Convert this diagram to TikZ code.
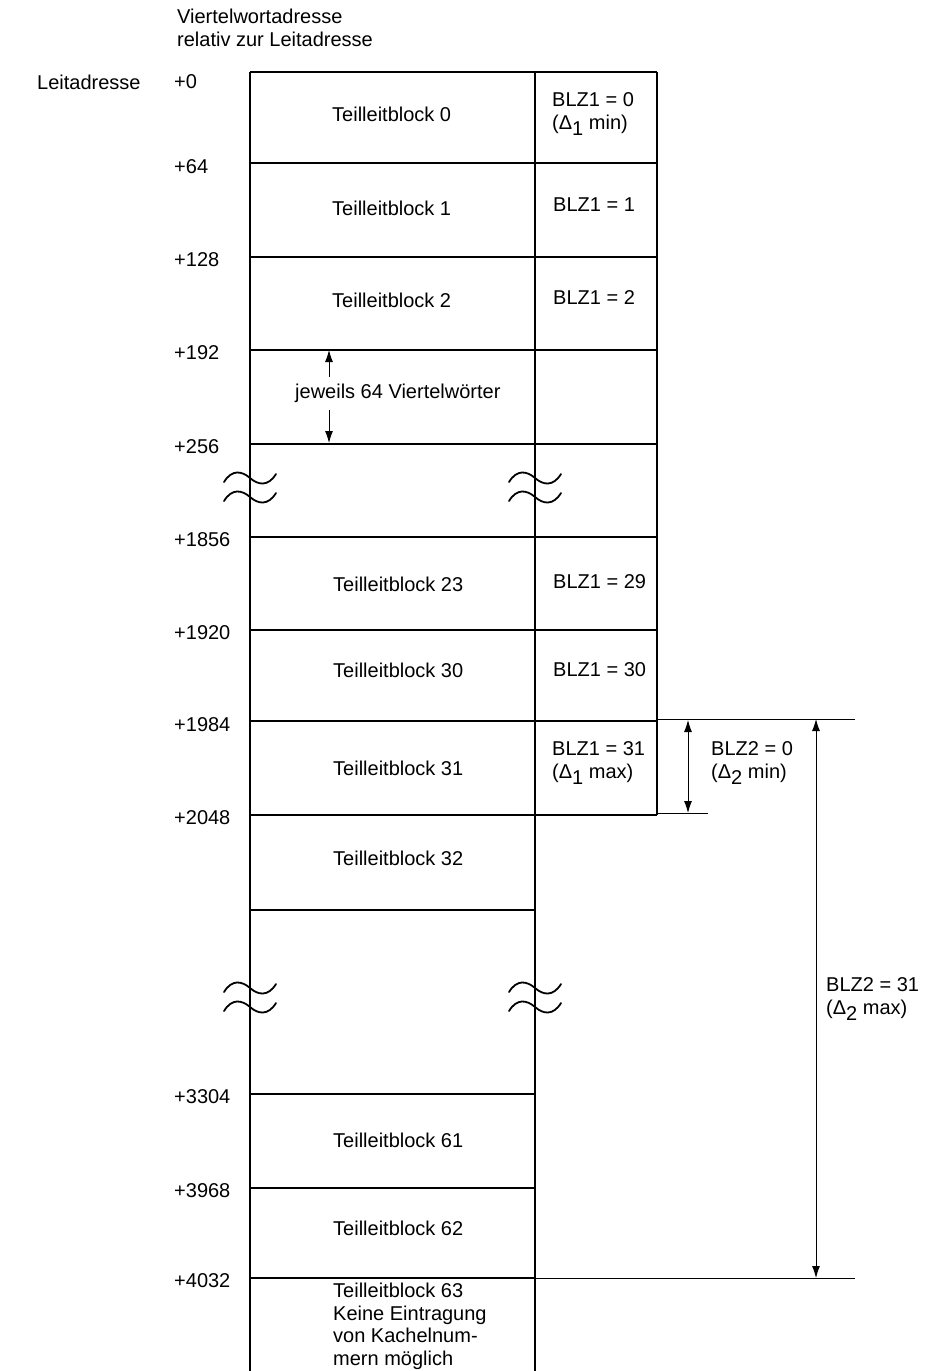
\documentclass[tikz,border=0pt]{standalone}
\usepackage{fontspec}
\setmainfont{Liberation Sans}
\usetikzlibrary{arrows.meta}
\newcommand{\sub}[1]{\raisebox{-0.3em}{#1}}
\newcommand{\breakmark}[2]{%
  \foreach \dy in {0,19}
    \draw[wavy] ({#1-26},{#2+\dy+4}) .. controls ({#1-18},{#2+\dy-9}) and ({#1-8},{#2+\dy-7}) .. ({#1},{#2+\dy})
      .. controls ({#1+8},{#2+\dy+7}) and ({#1+18},{#2+\dy+9}) .. ({#1+26},{#2+\dy-4});
}
\tikzset{
  grid/.style={line width=1.8pt},
  fine/.style={line width=0.9pt},
  wavy/.style={line width=1.8pt, line cap=round},
  dim/.style={line width=0.9pt,-{Latex[length=12pt,width=8pt]}},
  dimboth/.style={line width=0.9pt,{Latex[length=12pt,width=8pt]}-{Latex[length=12pt,width=8pt]}},
  lbl/.style={font=\fontsize{20}{22.5}\selectfont, inner sep=0pt, anchor=west, align=left},
}
\begin{document}
\begin{tikzpicture}[x=1pt,y=-1pt]
  \useasboundingbox (0,0) rectangle (927,1371);

  % headings
  \node[lbl] (head1) at (177,16) {Viertelwortadresse};
  \node[lbl] (head2) at (177,39) {relativ zur Leitadresse};
  \node[lbl] (lead) at (37,82) {Leitadresse};

  % address offsets
  \foreach \name/\y/\txt in {a0/82/+0, a64/167/+64, a128/260/+128, a192/353/+192, a256/447/+256,
      a1856/540/+1856, a1920/633/+1920, a1984/725/+1984, a2048/818/+2048,
      a3304/1097/+3304, a3968/1191/+3968, a4032/1281/+4032}
    \node[lbl] (\name) at (174,\y) {\txt};

  % frame
  \draw[grid] (250,72) -- (250,1371);
  \draw[grid] (535,72) -- (535,1371);
  \draw[grid] (657,72) -- (657,815);
  \foreach \y in {72,163,257,350,444,537,630}
    \draw[grid] (250,\y) -- (657,\y);
  \draw[line width=2.8pt] (250,721) -- (535,721);
  \draw[grid] (535,721) -- (657,721);
  \draw[grid] (250,815) -- (657,815);
  \foreach \y in {910,1094,1188,1278}
    \draw[grid] (250,\y) -- (535,\y);

  % extension lines
  \draw[fine] (657,719) -- (855,719);
  \draw[fine] (657,813) -- (708,813);
  \draw[fine] (535,1278) -- (855,1278);

  % breaks
  \breakmark{250}{478}
  \breakmark{535}{478}
  \breakmark{250}{988}
  \breakmark{535}{988}

  % blocks
  \node[lbl] (t0) at (332,114) {Teilleitblock 0};
  \node[lbl] (t1) at (332,208) {Teilleitblock 1};
  \node[lbl] (t2) at (332,300) {Teilleitblock 2};
  \node[lbl] (jw) at (295,393) {jeweils 64 Viertelwörter};
  \node[lbl] (t23) at (333,584) {Teilleitblock 23};
  \node[lbl] (t30) at (333,670) {Teilleitblock 30};
  \node[lbl] (t31) at (333,768) {Teilleitblock 31};
  \node[lbl] (t32) at (333,858) {Teilleitblock 32};
  \node[lbl] (t61) at (333,1140) {Teilleitblock 61};
  \node[lbl] (t62) at (333,1228) {Teilleitblock 62};
  \node[lbl, anchor=north west] (t63) at (333,1283) {Teilleitblock 63\\Keine Eintragung\\von Kachelnum-\\mern möglich};

  % counters
  \node[lbl] (b0) at (552,114) {BLZ1 = 0\\(Δ\sub{1} min)};
  \node[lbl] (b1) at (553,205) {BLZ1 = 1};
  \node[lbl] (b2) at (553,298) {BLZ1 = 2};
  \node[lbl] (b29) at (553,582) {BLZ1 = 29};
  \node[lbl] (b30) at (553,670) {BLZ1 = 30};
  \node[lbl] (b31) at (552,763) {BLZ1 = 31\\(Δ\sub{1} max)};
  \node[lbl] (c0) at (711,763) {BLZ2 = 0\\(Δ\sub{2} min)};
  \node[lbl] (c31) at (826,999) {BLZ2 = 31\\(Δ\sub{2} max)};

  % dimension arrows
  \coordinate (j1) at (329,350);
  \coordinate (j2) at (329,377);
  \coordinate (j3) at (329,410);
  \coordinate (j4) at (329,443);
  \draw[dim] (j2) -- (j1);
  \draw[dim] (j3) -- (j4);
  \coordinate (d1) at (688,720);
  \coordinate (d2) at (688,813);
  \draw[dimboth] (d1) -- (d2);
  \coordinate (e1) at (816,719);
  \coordinate (e2) at (816,1278);
  \draw[dimboth] (e1) -- (e2);
\end{tikzpicture}
\end{document}
